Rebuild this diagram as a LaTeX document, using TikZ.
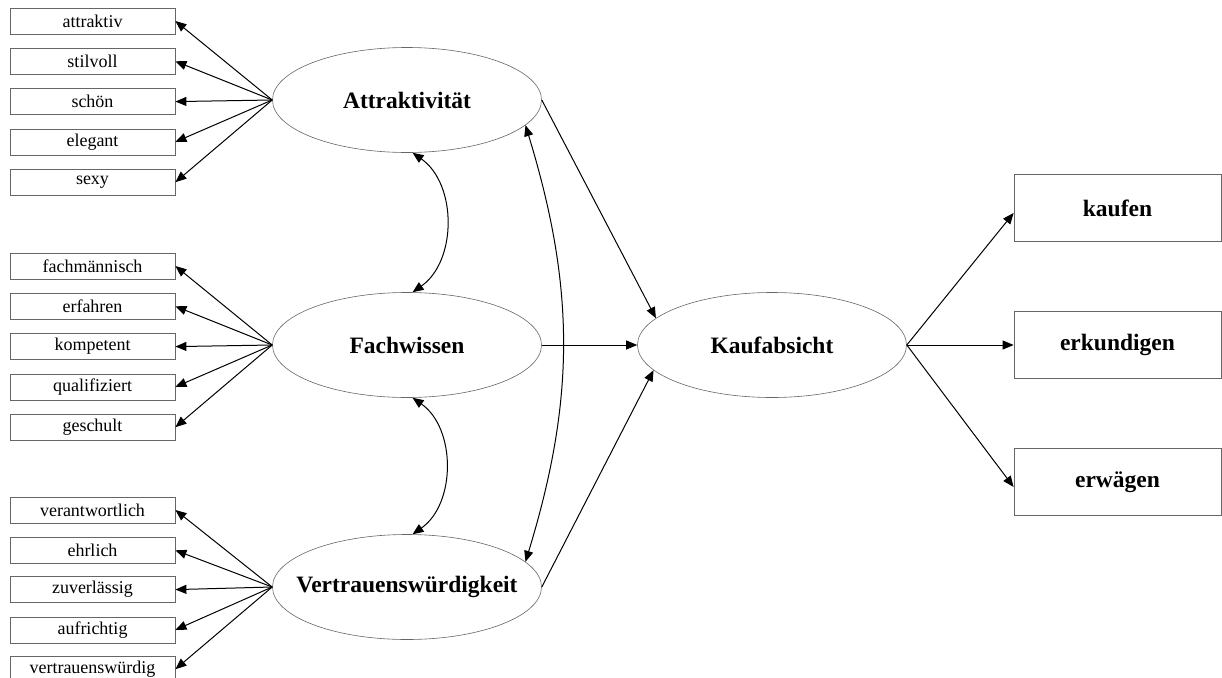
\documentclass[tikz,border=0pt]{standalone}
\usepackage{fontspec}
\setmainfont{Liberation Serif}
\usetikzlibrary{shapes.geometric, arrows.meta, positioning}

\tikzstyle{arrow} = [
    line width=1pt,
    -{Triangle[length=11pt,width=9pt]},
    draw=black
]
\tikzstyle{twoway} = [arrow, {Triangle[length=11pt,width=9pt]}-{Triangle[length=11pt,width=9pt]}]

\begin{document}
\begin{tikzpicture}[
    x=1pt, y=1pt,
    node distance=13.5pt,
    item/.style={
        rectangle,
        draw=black!60,
        line width=0.8pt,
        minimum width=165pt,
        minimum height=26pt,
        inner sep=0pt,
        font=\fontsize{18}{20}\selectfont
    },
    factor/.style={
        ellipse,
        draw=black!60,
        line width=0.6pt,
        minimum width=269pt,
        minimum height=105pt,
        inner sep=-20pt,
        font=\fontsize{23.5}{26}\selectfont\bfseries
    },
    outcome/.style={
        rectangle,
        draw=black!60,
        line width=0.8pt,
        minimum width=207pt,
        minimum height=67pt,
        inner sep=0pt,
        font=\fontsize{23.5}{26}\selectfont\bfseries
    }
]
\useasboundingbox (0,0) rectangle (1222,-677);

% Latent factors
\node[factor] (attr) at (407,-100) {Attraktivität};
\node[factor] (fach) at (407,-345) {Fachwissen};
\node[factor] (vert) at (407,-587) {Vertrauenswürdigkeit};
\node[factor] (kauf) at (772,-345) {Kaufabsicht};

% Items Attraktivitaet
\node[item] (attraktiv) at (92.5,-21) {attraktiv};
\node[item, below=of attraktiv] (stilvoll) {stilvoll};
\node[item, below=of stilvoll]  (schoen)   {schön};
\node[item, below=of schoen]    (elegant)  {elegant};
\node[item, below=of elegant]   (sexy)     {sexy};

% Items Fachwissen
\node[item] (fachmaennisch) at (92.5,-266) {fachmännisch};
\node[item, below=of fachmaennisch] (erfahren)     {erfahren};
\node[item, below=of erfahren]      (kompetent)    {kompetent};
\node[item, below=of kompetent]     (qualifiziert) {qualifiziert};
\node[item, below=of qualifiziert]  (geschult)     {geschult};

% Items Vertrauenswuerdigkeit
\node[item] (verantwortlich) at (92.5,-510) {verantwortlich};
\node[item, below=of verantwortlich] (ehrlich)     {ehrlich};
\node[item, below=12.5pt of ehrlich] (zuverlaessig) {zuverlässig};
\node[item, below=of zuverlaessig]   (aufrichtig)  {aufrichtig};
\node[item, below=12.5pt of aufrichtig] (vertrauenswuerdig) {vertrauenswürdig};

% Outcomes
\node[outcome] (kaufen)     at (1117.5,-208) {kaufen};
\node[outcome] (erkundigen) at (1117.5,-345) {erkundigen};
\node[outcome] (erwaegen)   at (1117.5,-482) {erwägen};

% Loadings
\draw[arrow] (attr.west) -- (attraktiv.east);
\draw[arrow] (attr.west) -- (stilvoll.east);
\draw[arrow] (attr.west) -- (schoen.east);
\draw[arrow] (attr.west) -- (elegant.east);
\draw[arrow] (attr.west) -- (sexy.east);

\draw[arrow] (fach.west) -- (fachmaennisch.east);
\draw[arrow] (fach.west) -- (erfahren.east);
\draw[arrow] (fach.west) -- (kompetent.east);
\draw[arrow] (fach.west) -- (qualifiziert.east);
\draw[arrow] (fach.west) -- (geschult.east);

\draw[arrow] (vert.west) -- (verantwortlich.east);
\draw[arrow] (vert.west) -- (ehrlich.east);
\draw[arrow] (vert.west) -- (zuverlaessig.east);
\draw[arrow] (vert.west) -- (aufrichtig.east);
\draw[arrow] (vert.west) -- (vertrauenswuerdig.east);

% Correlations
\draw[twoway] (attr.-84) to[bend left=55] (fach.84);
\draw[twoway] (fach.-84) to[bend left=55] (vert.84);
\draw[twoway] (attr.-12) to[bend left=17] (vert.12);

% Paths
\draw[arrow] (attr.east) -- (kauf.167);
\draw[arrow] (fach.east) -- (kauf.west);
\draw[arrow] (vert.east) -- (kauf.192);

\draw[arrow] (kauf.east) -- ([yshift=-5pt]kaufen.west);
\draw[arrow] (kauf.east) -- (erkundigen.west);
\draw[arrow] (kauf.east) -- ([yshift=-5pt]erwaegen.west);

\end{tikzpicture}
\end{document}
